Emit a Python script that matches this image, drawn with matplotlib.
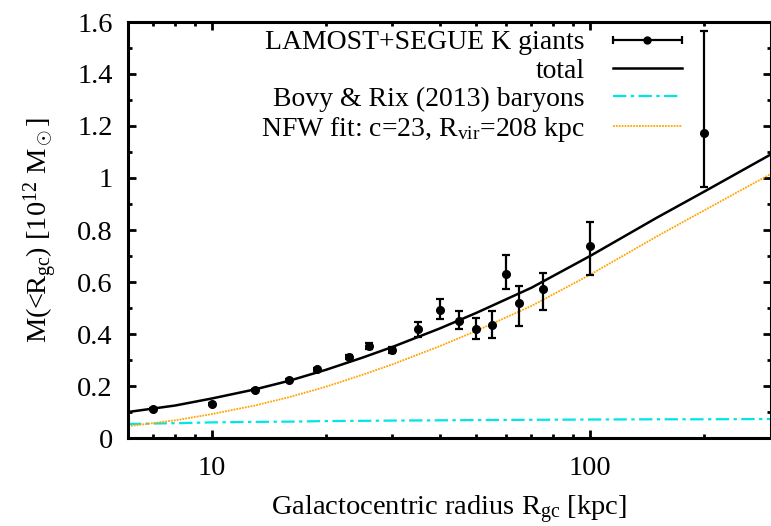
import numpy as np
import matplotlib
matplotlib.use('Agg')
import matplotlib.pyplot as plt
from matplotlib.ticker import FuncFormatter, MultipleLocator, LogLocator, NullFormatter
from matplotlib.legend_handler import HandlerErrorbar

plt.rcParams['font.family'] = ['Liberation Serif', 'DejaVu Serif']
plt.rcParams['mathtext.fontset'] = 'custom'
plt.rcParams['mathtext.rm'] = 'Liberation Serif'
plt.rcParams['mathtext.it'] = 'Liberation Serif:italic'

# K giant mass estimates
r_data = [7, 10, 13, 16, 19, 23, 26, 30, 35, 40, 45, 50, 55, 60, 65, 75, 100, 200]
m_data = [0.110, 0.131, 0.185, 0.223, 0.265, 0.311, 0.354, 0.338, 0.418, 0.492,
          0.449, 0.421, 0.436, 0.630, 0.518, 0.573, 0.738, 1.174]
err_lo = [0.004, 0.004, 0.005, 0.005, 0.006, 0.008, 0.012, 0.012, 0.031, 0.036,
          0.031, 0.041, 0.052, 0.057, 0.088, 0.081, 0.112, 0.210]
err_hi = [0.004, 0.004, 0.005, 0.005, 0.006, 0.008, 0.012, 0.012, 0.029, 0.042,
          0.041, 0.042, 0.052, 0.074, 0.067, 0.060, 0.091, 0.390]

# model curves
r_model = [6, 8, 10, 13, 16, 20, 25, 30, 40, 50, 70, 100, 150, 200, 300]
m_total = [0.100, 0.125, 0.152, 0.187, 0.220, 0.262, 0.309, 0.350, 0.421, 0.481,
           0.578, 0.700, 0.847, 0.947, 1.090]
m_nfw = [0.045, 0.068, 0.092, 0.125, 0.157, 0.197, 0.243, 0.283, 0.353, 0.412,
         0.508, 0.628, 0.775, 0.875, 1.015]
m_bar = [0.054, 0.057, 0.060, 0.062, 0.063, 0.065, 0.066, 0.067, 0.068, 0.069,
         0.070, 0.071, 0.072, 0.072, 0.073]

FS = 20.5

fig = plt.figure(figsize=(7.71, 5.26), dpi=100)
ax = fig.add_axes([128 / 771, 1 - 438 / 526, (770.5 - 128) / 771, (438 - 22) / 526])

l_total, = ax.plot(r_model, m_total, color='black', lw=1.8)
l_bar, = ax.plot(r_model, m_bar, color='#00e5e5', lw=1.6, dashes=(6, 2, 1.5, 2))
l_nfw, = ax.plot(r_model, m_nfw, color='orange', lw=1.3, linestyle=(0, (1, 0.6)))
ax.errorbar(r_data, m_data, yerr=[err_lo, err_hi], fmt='o', color='black',
            ms=5.5, lw=1.6, capsize=2.8, capthick=1.6)

# horizontal errorbar handle for the legend, as gnuplot draws it
proxy = ax.errorbar([np.nan], [np.nan], xerr=[1.0], fmt='o', color='black',
                    ms=5, lw=1.6, capsize=2.8, capthick=1.6)

ax.set_xscale('log')
ax.set_xlim(6, 300)
ax.set_ylim(0, 1.6)

fmt = FuncFormatter(lambda v, p: '%g' % v)
ax.xaxis.set_major_locator(LogLocator(base=10, numticks=10))
ax.xaxis.set_minor_locator(LogLocator(base=10, subs=np.arange(2, 10), numticks=20))
ax.xaxis.set_major_formatter(fmt)
ax.xaxis.set_minor_formatter(NullFormatter())
ax.yaxis.set_major_locator(MultipleLocator(0.2))
ax.yaxis.set_minor_locator(MultipleLocator(0.1))
ax.yaxis.set_major_formatter(fmt)

ax.tick_params(which='both', direction='in', top=True, right=True, width=2.0,
               labelsize=FS)
ax.tick_params(which='major', length=6)
ax.tick_params(which='minor', length=3)
ax.tick_params(axis='y', pad=11)
ax.tick_params(axis='x', pad=13)
for s in ax.spines.values():
    s.set_linewidth(2.2)

ax.set_xlabel(r'Galactocentric radius R$_\mathrm{gc}$ [kpc]', fontsize=FS, labelpad=9)
ax.set_ylabel(r'M(<R$_\mathrm{gc}$) [10$^{12}$ M$_\odot$]', fontsize=FS, labelpad=12)

leg = ax.legend([proxy, l_total, l_bar, l_nfw],
                ['LAMOST+SEGUE K giants', 'total', 'Bovy & Rix (2013) baryons',
                 r'NFW fit: c=23, R$_\mathrm{vir}$=208 kpc'],
                handler_map={type(proxy): HandlerErrorbar(xerr_size=1.25)},
                loc='upper right', bbox_to_anchor=(682 / 771, 1 - 30 / 526),
                bbox_transform=fig.transFigure, frameon=False, markerfirst=False,
                fontsize=20, handlelength=2.5, handletextpad=1.0,
                labelspacing=0.1, borderpad=0, borderaxespad=0, numpoints=1)

fig.savefig('out.png', dpi=100)
